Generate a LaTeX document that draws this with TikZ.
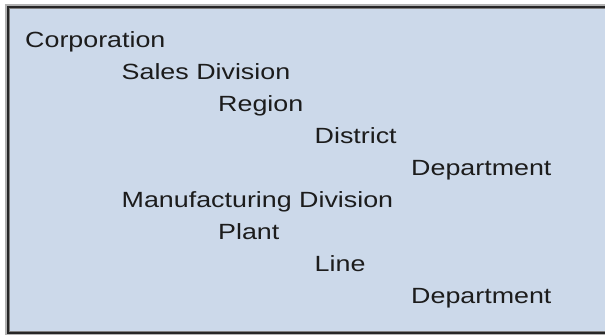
\documentclass[tikz,border=0pt]{standalone}
\usepackage{fontspec}
\setmainfont{Liberation Sans}[FakeStretch=1.22]
\usepackage{tikz}
\definecolor{panelblue}{RGB}{204,217,234}
\definecolor{inkgray}{RGB}{28,28,28}
\def\indentstep{96.5}
\def\rowstep{32}
\tikzset{
  levelitem/.style={anchor=base west, inner sep=0pt, text=inkgray, font=\fontsize{22}{24}\selectfont}
}

\begin{document}
\begin{tikzpicture}[x=1pt, y=-1pt]

   \useasboundingbox (0, 0) rectangle (605, 335);
   % frame
   \fill[white] (0, 0) rectangle (605, 335);
   \fill[gray!60] (5, 4) rectangle (605, 335);
   \fill[black!85] (7, 6) rectangle (605, 334);
   \fill[gray] (9, 8) rectangle (605, 332);
   \fill[panelblue] (10, 9) rectangle (605, 331);

   \foreach \lbl/\lvl [count=\i] in {Corporation/0, Sales Division/1, Region/2, District/3, Department/4,
                                      Manufacturing Division/1, Plant/2, Line/3, Department/4}{
        \node[levelitem] (n\i) at (25 + \lvl * \indentstep, 47 + \rowstep * \i - \rowstep) {\lbl};
   }

\end{tikzpicture}
\end{document}
